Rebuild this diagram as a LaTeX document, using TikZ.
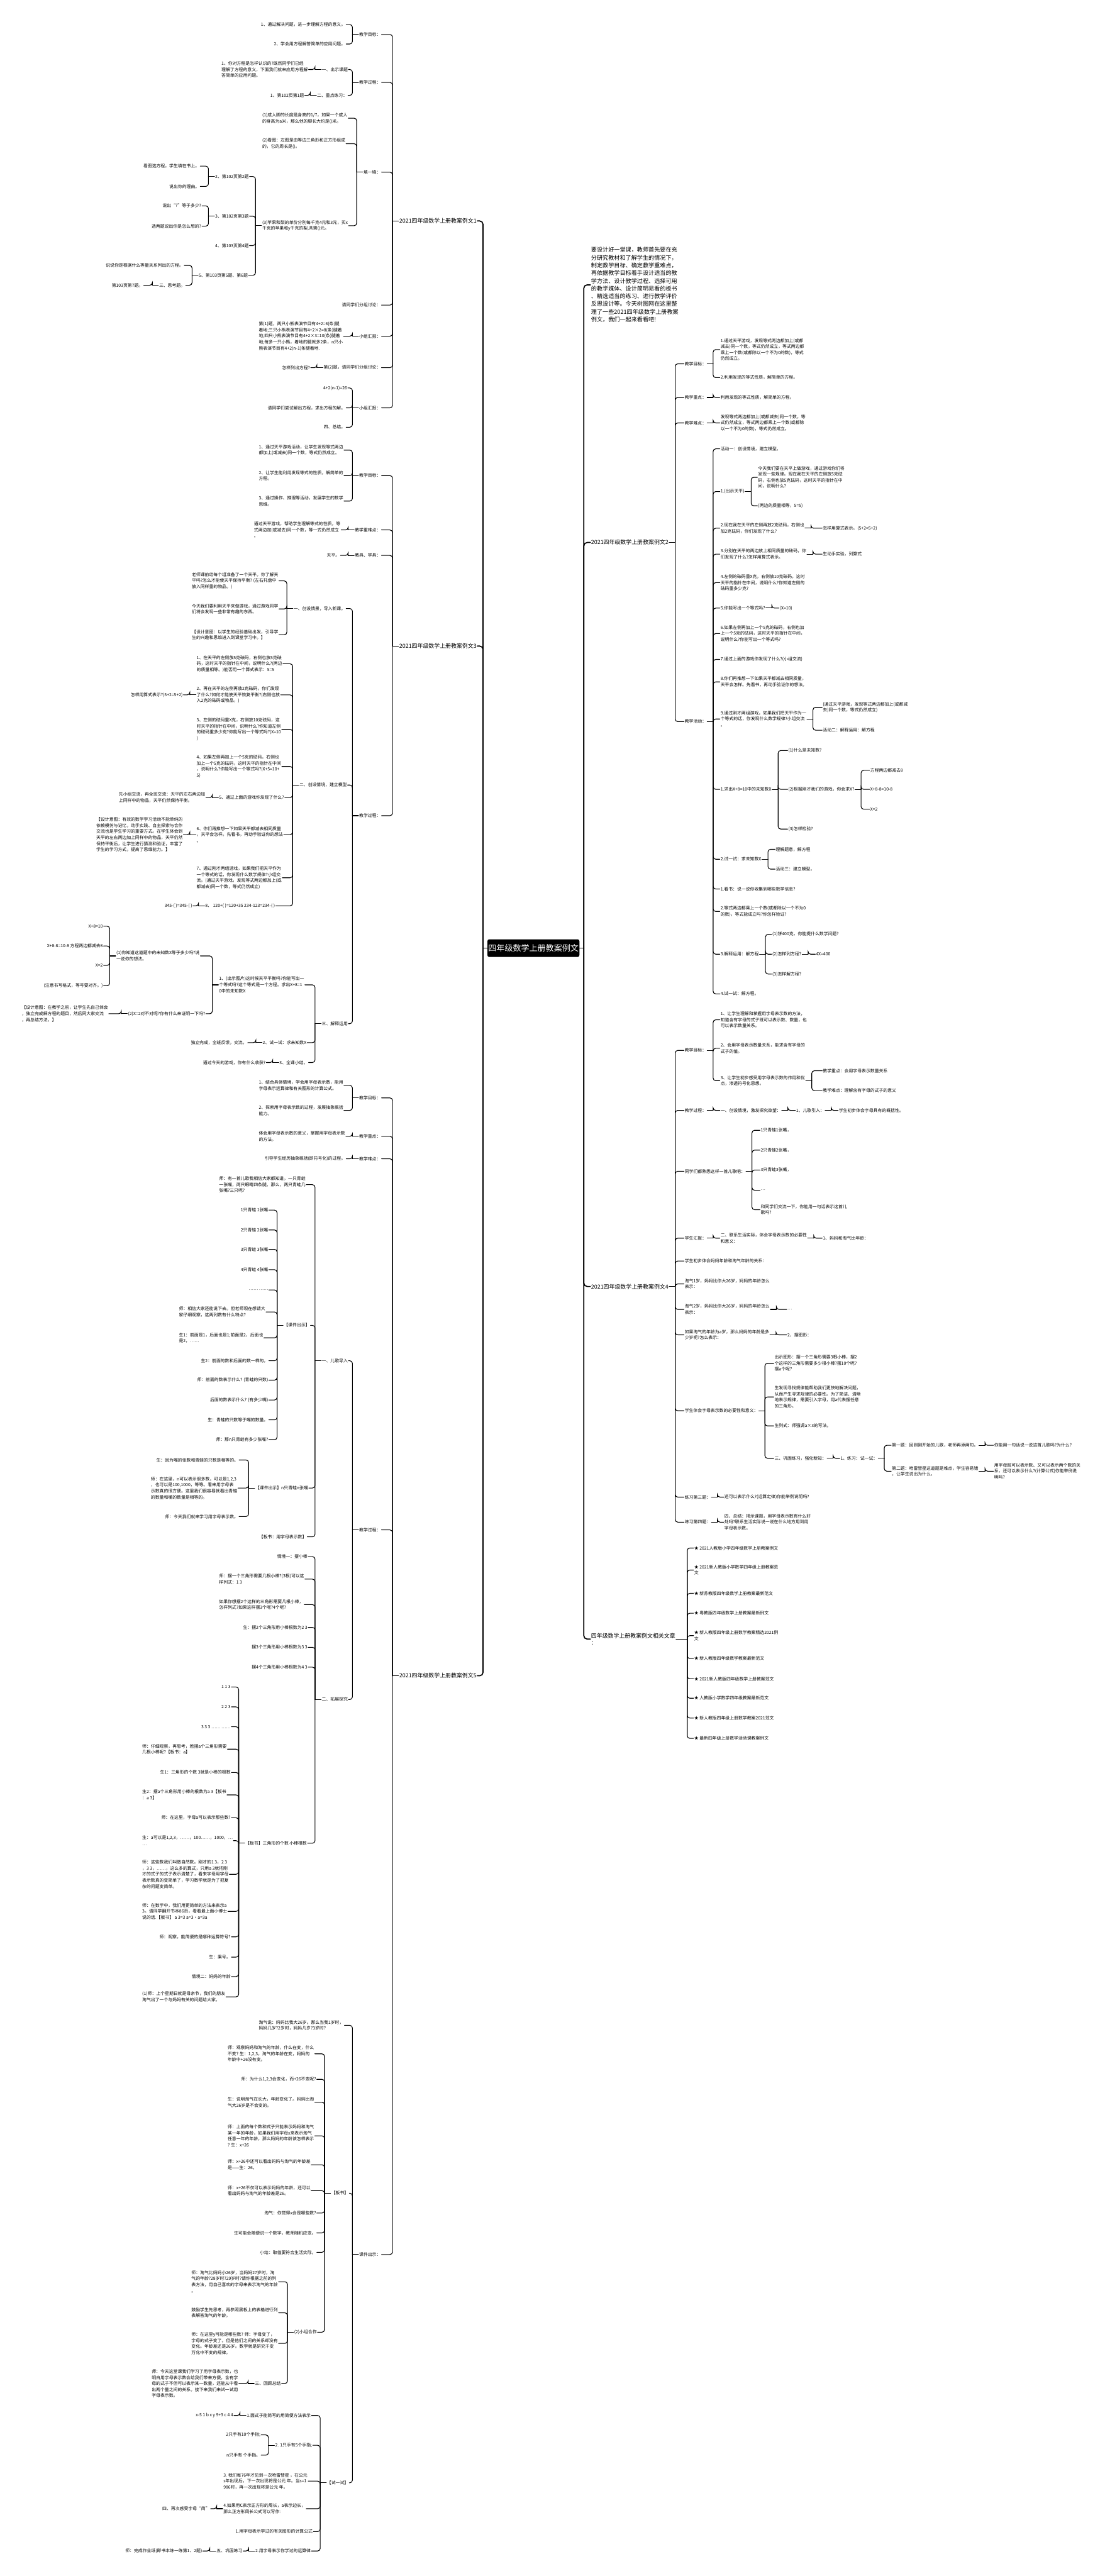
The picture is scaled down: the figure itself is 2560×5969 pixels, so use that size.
\documentclass[tikz,border=0pt]{standalone}
\usepackage{fontspec}
\setmainfont{Noto Sans CJK SC}
\newcommand{\lkL}[3][14pt]{\draw[conn] (#2.west) -- ++(-#1,0) coordinate (jj);\foreach \nm in {#3}{\draw[conn,rounded corners=6pt] (jj) |- (\nm.east);}}
\newcommand{\lkR}[3][14pt]{\draw[conn] (#2.east) -- ++(#1,0) coordinate (jj);\foreach \nm in {#3}{\draw[conn,rounded corners=6pt] (jj) |- (\nm.west);}}
\begin{document}
\begin{tikzpicture}[x=1pt,y=-1pt,
  t/.style={font=\fontsize{10}{14}\selectfont,align=left,inner sep=1.5pt},
  L/.style={t,anchor=east}, W/.style={t,anchor=west},
  br/.style={font=\fontsize{13}{17}\selectfont,align=left,inner sep=1.5pt},
  conn/.style={line width=1.6pt,line cap=round},
  mainc/.style={line width=2.5pt,line cap=round}]
\useasboundingbox (0,0) rectangle (2560,5969);
\fill[white] (0,0) rectangle (2560,5969);

% root
\node[fill=black,text=white,rounded corners=4pt,minimum width=213pt,minimum height=41pt,inner sep=0pt,font=\fontsize{19}{22}\selectfont] (root) at (1236,2197) {四年级数学上册教案例文};

% ================= branch 1 =================
\node[br,anchor=east] (b1) at (1106,512) {2021四年级数学上册教案例文1};
\node[L] (b1a) at (884,80) {教学目标：};
\node[L] (b1a1) at (802,57) {1、通过解决问题，进一步理解方程的意义。};
\node[L] (b1a2) at (802,102) {2、学会用方程解答简单的应用问题。};
\node[L] (b1b) at (884,191) {教学过程：};
\node[W] (b1b1) at (744,161) {一、出示课题};
\node[L] (b1b1a) at (715,161) {1、你对方程是怎样认识的?既然同学们已经\\理解了方程的意义，下面我们就来应用方程解\\答简单的应用问题。};
\node[W] (b1b2) at (733,221) {二、重点练习：};
\node[L] (b1b2a) at (706,221) {1、第102页第1题};
\node[L] (b1c) at (884,399) {填一填：};
\node[W] (b1c1) at (606,274) {(1)成人脚的长度是身高的1/7，如果一个成人\\的身高为a米，那么他的脚长大约是()米。};
\node[W] (b1c2) at (606,333) {(2)看图：左图是由等边三角形和正方形组成\\的，它的周长是()。};
\node[W] (b1c3) at (606,523) {(3)苹果和梨的单价分别每千克4元和3元，买x\\千克的苹果和y千克的梨,共需()元。};
\node[W] (b1c3a) at (497,409) {2、第102页第2题};
\node[L] (b1c3a1) at (464,385) {看图选方程。学生填在书上。};
\node[L] (b1c3a2) at (464,432) {说出你的理由。};
\node[W] (b1c3b) at (497,501) {3、第102页第3题};
\node[L] (b1c3b1) at (468,477) {说出“?”等于多少?};
\node[L] (b1c3b2) at (468,524) {选两题说出你是怎么想的?};
\node[W] (b1c3c) at (497,569) {4、第103页第4题};
\node[W] (b1c3d) at (459,638) {5、第103页第5题、第6题};
\node[L] (b1c3d1) at (427,615) {说说你是根据什么等量关系列出的方程。};
\node[W] (b1c3d2) at (367,661) {三、思考题。};
\node[L] (b1c3d2a) at (333,661) {第103页第7题。};
\node[L] (b1d) at (884,707) {请同学们分组讨论：};
\node[L] (b1e) at (884,779) {小组汇报：};
\node[W] (b1e1) at (598,779) {第(1)题，两只小熊表演节目有4+2=6(条)腿\\着地;三只小熊表演节目有4+2×2=8(条)腿着\\地;四只小熊表演节目有4+2×3=10(条)腿着\\地;每多一只小熊，着地的腿就多2条，n只小\\熊表演节目有4+2(n-1)条腿着地.};
\node[L] (b1f) at (884,852) {第(2)题，请同学们分组讨论：};
\node[L] (b1f1) at (720,852) {怎样列出方程?};
\node[L] (b1g) at (884,945) {小组汇报：};
\node[L] (b1g1) at (806,899) {4+2(n-1)=26};
\node[L] (b1g2) at (802,945) {请同学们尝试解出方程，求出方程的解。};
\node[L] (b1g3) at (802,990) {四、总结。};

% ================= branch 3 =================
\node[br,anchor=east] (b3) at (1106,1497) {2021四年级数学上册教案例文3};
\node[L] (b3a) at (884,1102) {教学目标：};
\node[W] (b3a1) at (598,1043) {1、通过天平游戏活动，让学生发现等式两边\\都加上(或减去)同一个数，等式仍然成立。};
\node[W] (b3a2) at (598,1102) {2、让学生能利用发现等式的性质，解简单的\\方程。};
\node[W] (b3a3) at (598,1161) {3、通过操作、推理等活动，发展学生的数学\\思维。};
\node[L] (b3b) at (884,1228) {教学重难点：};
\node[W] (b3b1) at (587,1228) {通过天平游戏，帮助学生理解等式的性质，等\\式两边加(或减去)同一个数，等一式仍然成立\\。};
\node[L] (b3c) at (884,1287) {教具、学具：};
\node[L] (b3c1) at (789,1287) {天平。};
\node[L] (b3d) at (884,1890) {教学过程：};
\node[L] (b3d1) at (802,1410) {一、创设情景，导入新课。};
\node[W] (b3d1a) at (443,1346) {老师课前给每个组准备了一个天平。你了解天\\平吗?怎么才能使天平保持平衡? (左右托盘中\\放入同样重的物品。)};
\node[W] (b3d1b) at (443,1411) {今天我们要利用天平来做游戏，通过游戏同学\\们将会发现一些非常有趣的东西。};
\node[W] (b3d1c) at (443,1471) {【设计意图：以学生的经验基础出发，引导学\\生的兴趣和思维进入到课堂学习中。】};
\node[W] (b3d2) at (692,1819) {二、创设情境，建立模型};
\node[W] (b3d2a) at (454,1538) {1、在天平的左侧放5克砝码，右侧也放5克砝\\码，这时天平的指针在中间，说明什么?(两边\\的质量相等。)能否用一个算式表示：5=5};
\node[W] (b3d2b) at (454,1610) {2、再在天平的左侧再放2克砝码，你们发现\\了什么?如何才能使天平恢复平衡?(右侧也放\\入2克的砝码或物品。)};
\node[L] (b3d2b1) at (425,1610) {怎样用算式表示?(5+2=5+2)};
\node[W] (b3d2c) at (454,1690) {3、左侧的砝码重X克，右侧放10克砝码，这\\时天平的指针在中间，说明什么?你知道左侧\\的砝码重多少克?你能写出一个等式吗?(X=10\\)};
\node[W] (b3d2d) at (454,1776) {4、如果左侧再加上一个5克的砝码，右侧也\\加上一个5克的砝码，这时天平的指针在中间\\，说明什么?你能写出一个等式吗?(X+5=10+\\5)};
\node[W] (b3d2e) at (506,1848) {5、通过上面的游戏你发现了什么?};
\node[L] (b3d2e1) at (477,1848) {先小组交流，再全班交流：天平的左右两边加\\上同样中的物品，天平仍然保持平衡。};
\node[W] (b3d2f) at (454,1934) {6、你们再推想一下如果天平都减去相同质量\\，天平会怎样。先看书，再动手验证你的想法\\。};
\node[L] (b3d2f1) at (425,1934) {【设计意图：有效的数学学习活动不能单纯的\\依赖模仿与记忆，动手实践、自主探索与合作\\交流也是学生学习的重要方式。在学生体会到\\天平的左右两边加上同样中的物品，天平仍然\\保持平衡后，让学生进行猜测和验证，丰富了\\学生的学习方式，提高了思维能力。】};
\node[W] (b3d2g) at (454,2034) {7、通过刚才两组游戏，如果我们把天平作为\\一个等式的话，你发现什么数学规律?小组交\\流。(通过天平游戏，发现等式两边都加上(或\\都减去)同一个数，等式仍然成立)};
\node[W] (b3d2h) at (474,2099) {8、 120+( )=120+35 234-123=234-( )};
\node[L] (b3d2h1) at (447,2099) {345-( )=345-( )};
\node[W] (b3d3) at (744,2372) {三、解释运用};
\node[W] (b3d3a) at (506,2282) {1、(出示图片)这时候天平平衡吗?你能写出一\\个等式吗?这个等式是一个方程。求出X+8=1\\0中的未知数X};
\node[W] (b3d3a1) at (268,2215) {(1)你知道这道题中的未知数X等于多少吗?说\\一说你的想法。};
\node[L] (b3d3a1a) at (240,2146) {X+8=10};
\node[L] (b3d3a1b) at (240,2192) {X+8-8=10-8 方程两边都减去8};
\node[L] (b3d3a1c) at (240,2237) {X=2};
\node[L] (b3d3a1d) at (240,2284) {(注意书写格式，等号要对齐。)};
\node[L] (b3d3a2) at (477,2349) {(2)X=2对不对呢?你有什么来证明一下吗?};
\node[L] (b3d3a2a) at (252,2349) {【设计意图：在教学之前，让学生先自己体会\\，独立完成解方程的题目，然后同大家交流\\，再总结方法。】};
\node[W] (b3d3b) at (607,2416) {2、试一试：求未知数X};
\node[L] (b3d3b1) at (574,2416) {独立完成，全班反馈，交流。};
\node[W] (b3d3c) at (646,2462) {3、全课小结。};
\node[L] (b3d3c1) at (617,2462) {通过今天的游戏，你有什么收获?};

% ================= branch 5 =================
\node[br,anchor=east] (b5) at (1106,3883) {2021四年级数学上册教案例文5};
\node[L] (b5a) at (884,2544) {教学目标：};
\node[W] (b5a1) at (598,2515) {1、结合具体情境，学会用字母表示数，能用\\字母表示运算律和有关图形的计算公式。};
\node[W] (b5a2) at (598,2573) {2、探索用字母表示数的过程，发展抽象概括\\能力。};
\node[L] (b5b) at (884,2633) {教学重点：};
\node[W] (b5b1) at (598,2633) {体会用字母表示数的意义，掌握用字母表示数\\的方法。};
\node[L] (b5c) at (884,2685) {教学难点：};
\node[L] (b5c1) at (802,2685) {引导学生经历抽象概括(即符号化)的过程。};
\node[L] (b5d) at (884,3545) {教学过程：};
\node[W] (b5d1) at (744,3153) {一、儿歌导入};
\node[W] (b5d1a) at (506,2745) {师：有一首儿歌我相信大家都知道，一只青蛙\\一张嘴，两只眼睛四条腿。那么，两只青蛙几\\张嘴?三只呢?};
\node[W] (b5d1b) at (656,3071) {【课件出示】};
\node[L] (c1) at (623,2804) {1只青蛙 1张嘴};
\node[L] (c2) at (623,2850) {2只青蛙 2张嘴};
\node[L] (c3) at (623,2895) {3只青蛙 3张嘴};
\node[L] (c4) at (623,2942) {4只青蛙 4张嘴};
\node[L] (c5) at (623,2989) {…… ……};
\node[W] (c6) at (413,3040) {师：相信大家还能说下去。但老师现在想请大\\家仔细观察，这两列数有什么特点?};
\node[W] (c7) at (413,3100) {生1：前面是1，后面也是1;前面是2，后面也\\是2，……};
\node[L] (c8) at (623,3153) {生2：前面的数和后面的数一样的。};
\node[L] (c9) at (623,3198) {师：前面的数表示什么? (青蛙的只数)};
\node[L] (c10) at (623,3244) {后面的数表示什么? (有多少嘴)};
\node[L] (c11) at (623,3290) {生：青蛙的只数等于嘴的数量。};
\node[L] (c12) at (623,3336) {师：那n只青蛙有多少张嘴?};
\node[W] (b5d1c) at (590,3448) {【课件出示】n只青蛙n张嘴};
\node[L] (d1) at (554,3383) {生：因为嘴的张数和青蛙的只数是相等的。};
\node[W] (d2) at (348,3448) {师：在这里，n可以表示很多数，可以是1,2,3\\，也可以是100,1000，等等。看来用字母表\\示数真的很方便。这里我们很容易就看出青蛙\\的数量和嘴的数量是相等的。};
\node[L] (d3) at (554,3514) {师：今天我们就来学习用字母表示数。};
\node[L] (b5d1d) at (712,3561) {【板书：用字母表示数】};
\node[W] (b5d2) at (744,3938) {二、拓展探究};
\node[L] (e1) at (714,3607) {情境一：摆小棒};
\node[W] (e2) at (506,3659) {师：摆一个三角形需要几根小棒?(3根)可以这\\样列式：1 3};
\node[W] (e3) at (506,3718) {如果你想摆2个这样的三角形需要几根小棒，\\怎样列式?如果这样摆3个呢?4个呢?};
\node[L] (e4) at (714,3771) {生：摆2个三角形用小棒根数为2 3};
\node[L] (e5) at (714,3817) {摆3个三角形用小棒根数为3 3};
\node[L] (e6) at (714,3863) {摆4个三角形用小棒根数为4 3};
\node[W] (e7) at (567,4271) {【板书】三角形的个数 小棒根数};
\node[L] (f1) at (536,3909) {1 1 3};
\node[L] (f2) at (536,3955) {2 2 3};
\node[L] (f3) at (536,4001) {3 3 3 …… ……};
\node[W] (f4) at (328,4053) {师：仔细观察，再思考，若摆a个三角形需要\\几根小棒呢?【板书：a】};
\node[L] (f5) at (536,4107) {生1：三角形的个数 3就是小棒的根数};
\node[W] (f6) at (328,4159) {生2：摆a个三角形用小棒的根数为a 3【板书\\：a 3】};
\node[L] (f7) at (536,4212) {师：在这里，字母a可以表示那些数?};
\node[W] (f8) at (328,4265) {生：a可以是1,2,3，……，100……，1000，…\\…};
\node[W] (f9) at (328,4343) {师：这些数我们叫做自然数。刚才的1 3，2 3\\，3 3，……，这么多的算式，只用a 3就把刚\\才的式子的式子表示清楚了，看来字母用字母\\表示数真的变简单了，学习数学就是为了把复\\杂的问题变简单。};
\node[W] (f10) at (328,4429) {师：在数学中，我们用更简单的方法来表示a\\3。请同学翻开书本86页，看看最上面小博士\\说的话.【板书】 a 3=3 a=3·a=3a};
\node[L] (f11) at (536,4488) {师：观察，能简便的是哪种运算符号?};
\node[L] (f12) at (536,4535) {生：乘号。};
\node[L] (f13) at (536,4580) {情境二：妈妈的年龄};
\node[W] (f14) at (328,4627) {(1)师：上个星期日就是母亲节，我们的朋友\\淘气出了一个与妈妈有关的问题给大家。};
\node[L] (b5e) at (884,5224) {课件出示：};
\node[W] (g1) at (598,4693) {淘气说：妈妈比我大26岁。那么当我1岁时，\\妈妈几岁?2岁时，妈妈几岁?3岁时?};
\node[W] (g2) at (766,5082) {【板书】};
\node[W] (h1) at (526,4759) {师：观察妈妈和淘气的年龄，什么在变，什么\\不变? 生：1,2,3，淘气的年龄在变，妈妈的\\年龄中+26没有变。};
\node[L] (h2) at (734,4818) {师：为什么1,2,3会变化，而+26不变呢?};
\node[W] (h3) at (526,4871) {生：说明淘气在长大，年龄变化了。妈妈比淘\\气大26岁是不会变的。};
\node[W] (h4) at (526,4949) {师：上面的每个数和式子只能表示妈妈和淘气\\某一年的年龄，如果我们用字母x来表示淘气\\任意一年的年龄，那么妈妈的年龄该怎样表示\\? 生：x+26};
\node[W] (h5) at (526,5016) {师：x+26中还可以看出妈妈与淘气的年龄差\\是——生：26。};
\node[W] (h6) at (526,5076) {师：x+26不仅可以表示妈妈的年龄，还可以\\看出妈妈与淘气的年龄差是26。};
\node[L] (h7) at (734,5128) {淘气：你觉得x会是哪些数?};
\node[L] (h8) at (734,5174) {生可能会随便说一个数字，教师随机应变。};
\node[L] (h9) at (734,5219) {小结：取值要符合生活实际。};
\node[W] (h10) at (680,5404) {(2)小组合作};
\node[W] (i1) at (442,5287) {师：淘气比妈妈小26岁，当妈妈27岁时，淘\\气的年龄?28岁时?29岁时?请你根据之前的列\\表方法，用自己喜欢的字母来表示淘气的年龄\\。};
\node[W] (i2) at (442,5359) {鼓励学生先思考，再参照黑板上的表格进行列\\表解答淘气的年龄。};
\node[W] (i3) at (442,5430) {师：在这里y可能是哪些数? 师：字母变了，\\字母的式子变了。但是他们之间的关系却没有\\变化。年龄差还是26岁。数学就是研究千变\\万化中不变的规律。};
\node[W] (i4) at (589,5523) {三、回顾总结};
\node[W] (i4a) at (350,5523) {师：今天这堂课我们学习了用字母表示数，也\\明白用字母表示数会给我们带来方便，含有字\\母的式子不但可以表示某一数量，还能从中看\\出两个量之间的关系。接下来我们来试一试用\\字母表示数。};
\node[W] (g3) at (756,5753) {【试一试】};
\node[W] (j1) at (570,5597) {1.面式子能简写的用简便方法表示};
\node[L] (j1a) at (542,5597) {x-5 1 b x y 9+3 c 4 4};
\node[W] (j2) at (636,5666) {2. 1只手有5个手指;};
\node[L] (j2a) at (605,5642) {2只手有10个手指;};
\node[L] (j2b) at (605,5689) {n只手有 个手指。};
\node[W] (j3) at (516,5749) {3. 我们每76年才见到一次哈雷彗星 ，在公元\\s年出现后，下一次出现将是公元 年。当s=1\\986时，再一次出现将是公元 年。};
\node[W] (j4) at (516,5813) {4.如果用C表示正方形的周长，a表示边长，\\那么正方形周长公式可以写作:};
\node[L] (j4a) at (488,5813) {四、再次感受字母“简”};
\node[L] (j5) at (726,5866) {1.用字母表示学过的有关图形的计算公式};
\node[W] (j6) at (590,5911) {2.用字母表示你学过的运算律};
\node[W] (j6a) at (500,5911) {五、巩固练习};
\node[L] (j6b) at (470,5911) {师：完成作业纸(即书本练一练第1、2题)};

% ================= right: intro =================
\node[W,font=\fontsize{13.3}{17.9}\selectfont] (intro) at (1368,660) {要设计好一堂课，教师首先要在充\\分研究教材和了解学生的情况下，\\制定教学目标、确定教学重难点，\\再依据教学目标着手设计适当的教\\学方法、设计教学过程、选择可用\\的教学媒体、设计简明易看的板书\\、精选适当的练习、进行教学评价\\反思设计等。今天树图网在这里整\\理了一些2021四年级数学上册教案\\例文，我们一起来看看吧!};

% ================= branch 2 =================
\node[br,anchor=west] (b2) at (1368,1257) {2021四年级数学上册教案例文2};
\node[W] (k1) at (1585,843) {教学目标：};
\node[W] (k1a) at (1668,810) {1.通过天平游戏，发现等式两边都加上(或都\\减去)同一个数，等式仍然成立，等式两边都\\乘上一个数(或都除以一个不为0的数)，等式\\仍然成立。};
\node[W] (k1b) at (1668,875) {2.利用发现的等式性质，解简单的方程。};
\node[W] (k2) at (1585,921) {教学重点：};
\node[W] (k2a) at (1668,921) {利用发现的等式性质，解简单的方程。};
\node[W] (k3) at (1585,980) {教学难点：};
\node[W] (k3a) at (1668,980) {发现等式两边都加上(或都减去)同一个数，等\\式仍然成立，等式两边都乘上一个数(或都除\\以一个不为0的数)，等式仍然成立。};
\node[W] (k4) at (1585,1672) {教学活动：};
\node[W] (m1) at (1668,1040) {活动一：创设情境，建立模型。};
\node[W] (m2) at (1668,1139) {1.(出示天平)};
\node[W] (m2a) at (1755,1106) {今天我们要在天平上做游戏，通过游戏你们将\\发现一些规律。现在我在天平的左侧放5克砝\\码，右侧也放5克砝码，这时天平的指针在中\\间，说明什么?};
\node[W] (m2b) at (1755,1172) {(两边的质量相等，5=5)};
\node[W] (m3) at (1668,1224) {2.现在我在天平的左侧再放2克砝码，右侧也\\加2克砝码，你们发现了什么?};
\node[W] (m3a) at (1905,1224) {怎样用算式表示。(5+2=5+2)};
\node[W] (m4) at (1668,1284) {3.分别在天平的两边放上相同质量的砝码，你\\们发现了什么?怎样用算式表示。};
\node[W] (m4a) at (1905,1284) {生动手实验，列算式};
\node[W] (m5) at (1668,1350) {4.左侧的砝码重X克，右侧放10克砝码，这时\\天平的指针在中间，说明什么?你知道左侧的\\砝码重多少克?};
\node[W] (m6) at (1668,1409) {5.你能写出一个等式吗?};
\node[W] (m6a) at (1805,1409) {(X=10)};
\node[W] (m7) at (1668,1468) {6.如果左侧再加上一个5克的砝码，右侧也加\\上一个5克的砝码，这时天平的指针在中间，\\说明什么?你能写出一个等式吗?};
\node[W] (m8) at (1668,1528) {7.通过上面的游戏你发现了什么?(小组交流)};
\node[W] (m9) at (1668,1580) {8.你们再推想一下如果天平都减去相同质量，\\天平会怎样。先看书，再动手验证你的想法。};
\node[W] (m10) at (1668,1666) {9.通过刚才两组游戏，如果我们把天平作为一\\个等式的话，你发现什么数学规律?小组交流\\。};
\node[W] (m10a) at (1905,1639) {(通过天平游戏，发现等式两边都加上(或都减\\去)同一个数，等式仍然成立)};
\node[W] (m10b) at (1905,1692) {活动二：解释运用：解方程};
\node[W] (m11) at (1668,1829) {1.求出X+8=10中的未知数X};
\node[W] (m11a) at (1825,1739) {(1)什么是未知数?};
\node[W] (m11b) at (1825,1829) {(2)根据刚才我们的游戏，你会求X?};
\node[W] (m11b1) at (2015,1785) {方程两边都减去8};
\node[W] (m11b2) at (2015,1829) {X+8-8=10-8};
\node[W] (m11b3) at (2015,1875) {X=2};
\node[W] (m11c) at (1825,1921) {(3)怎样检验?};
\node[W] (m12) at (1668,1991) {2.试一试：求未知数X};
\node[W] (m12a) at (1796,1968) {理解题意，解方程};
\node[W] (m12b) at (1796,2014) {活动三：建立模型。};
\node[W] (m13) at (1668,2060) {1.看书：说一说你收集到哪些数学信息?};
\node[W] (m14) at (1668,2112) {2.等式两边都乘上一个数(或都除以一个不为0\\的数)，等式能成立吗?你怎样验证?};
\node[W] (m15) at (1668,2211) {3.解释运用：解方程};
\node[W] (m15a) at (1788,2165) {(1)饼400克，你能提什么数学问题?};
\node[W] (m15b) at (1788,2211) {(2)怎样列方程?};
\node[W] (m15b1) at (1889,2211) {4X=400};
\node[W] (m15c) at (1788,2257) {(3)怎样解方程?};
\node[W] (m16) at (1668,2303) {4.试一试：解方程。};

% ================= branch 4 =================
\node[br,anchor=west] (b4) at (1368,2981) {2021四年级数学上册教案例文4};
\node[W] (n1) at (1585,2434) {教学目标：};
\node[W] (n1a) at (1668,2363) {1、让学生理解和掌握用字母表示数的方法，\\知道含有字母的式子既可以表示数、数量，也\\可以表示数量关系。};
\node[W] (n1b) at (1668,2429) {2、会用字母表示数量关系，能求含有字母的\\式子的值。};
\node[W] (n1c) at (1668,2504) {3、让学生初步感受用字母表示数的作用和优\\点，渗透符号化思想。};
\node[W] (n1c1) at (1905,2481) {教学重点：会用字母表示数量关系};
\node[W] (n1c2) at (1905,2527) {教学难点：理解含有字母的式子的意义};
\node[W] (n2) at (1585,2573) {教学过程：};
\node[W] (n2a) at (1668,2573) {一、创设情境，激发探究欲望：};
\node[W] (n2b) at (1843,2573) {1、儿歌引入：};
\node[W] (n2c) at (1942,2573) {学生初步体会字母具有的概括性。};
\node[W] (n3) at (1585,2714) {同学们都熟悉这样一首儿歌吧：};
\node[W] (n3a) at (1761,2619) {1只青蛙1张嘴，};
\node[W] (n3b) at (1761,2665) {2只青蛙2张嘴，};
\node[W] (n3c) at (1761,2711) {3只青蛙3张嘴，};
\node[W] (n3d) at (1761,2758) {…};
\node[W] (n3e) at (1761,2803) {和同学们交流一下，你能用一句话表示这首儿\\歌吗?};
\node[W] (n4) at (1585,2869) {学生汇报：};
\node[W] (n4a) at (1668,2869) {二、联系生活实际，体会字母表示数的必要性\\和意义：};
\node[W] (n4b) at (1905,2869) {1、妈妈和淘气比年龄：};
\node[W] (n5) at (1585,2922) {学生初步体会妈妈年龄和淘气年龄的关系：};
\node[W] (n6) at (1585,2975) {淘气1岁，妈妈比你大26岁，妈妈的年龄怎么\\表示：};
\node[W] (n7) at (1585,3034) {淘气2岁，妈妈比你大26岁，妈妈的年龄怎么\\表示：};
\node[W] (n7a) at (1823,3034) {…};
\node[W] (n8) at (1585,3093) {如果淘气的年龄为a岁，那么妈妈的年龄是多\\少岁呢?怎么表示：};
\node[W] (n8a) at (1823,3093) {2、摆图形：};
\node[W] (n9) at (1585,3269) {学生体会字母表示数的必要性和意义：};
\node[W] (o1) at (1793,3159) {出示图形：摆一个三角形需要3根小棒，摆2\\个这样的三角形需要多少根小棒?摆10个呢?\\摆a个呢?};
\node[W] (o2) at (1793,3237) {生发现寻找规律能帮助我们更快地解决问题，\\从而产生寻求规律的必要性。为了简洁、清晰\\地表示规律，需要引入字母，用a代表摆任意\\的三角形。};
\node[W] (o3) at (1793,3304) {生列式：师强调a×3的写法。};
\node[W] (o4) at (1793,3379) {三、巩固练习，强化新知：};
\node[W] (o4a) at (1946,3379) {1、练习：试一试：};
\node[W] (p1) at (2065,3349) {第一题：回到刚开始的儿歌，老师再添两句。};
\node[W] (p1a) at (2302,3349) {你能用一句话说一说这首儿歌吗?为什么?};
\node[W] (p2) at (2065,3409) {第二题：哈雷彗星这道题是难点，学生容易错\\，让学生说出为什么。};
\node[W] (p2a) at (2302,3409) {用字母既可以表示数、又可以表示两个数的关\\系，还可以表示什么?(计算公式)你能举例说\\明吗?};
\node[W] (n10) at (1585,3469) {练习第三题：};
\node[W] (n10a) at (1677,3469) {还可以表示什么?(运算定律)你能举例说明吗?};
\node[W] (n11) at (1585,3527) {练习第四题：};
\node[W] (n11a) at (1677,3527) {四、总结：揭示课题，用字母表示数有什么好\\处吗?联系生活实际说一说在什么地方用到用\\字母表示数。};

% ================= related =================
\node[br,anchor=west] (rel) at (1368,3798) {四年级数学上册教案例文相关文章\\：};
\node[W] (q1) at (1607,3587) {★ 2021人教版小学四年级数学上册教案例文};
\node[W] (q2) at (1607,3638) {★ 2021新人教版小学数学四年级上册教案范\\文};
\node[W] (q3) at (1607,3692) {★ 新苏教版四年级数学上册教案最新范文};
\node[W] (q4) at (1607,3738) {★ 粤教版四年级数学上册教案最新例文};
\node[W] (q5) at (1607,3790) {★ 新人教版四年级上册数学教案精选2021例\\文};
\node[W] (q6) at (1607,3843) {★ 新人教版四年级数学教案最新范文};
\node[W] (q7) at (1607,3890) {★ 2021新人教版四年级数学上册教案范文};
\node[W] (q8) at (1607,3935) {★ 人教版小学数学四年级教案最新范文};
\node[W] (q9) at (1607,3981) {★ 新人教版四年级上册数学教案2021范文};
\node[W] (q10) at (1607,4028) {★ 最新四年级上册数学活动课教案例文};

% ================= connectors =================
\draw[mainc] (root.west) -- ++(-10pt,0) coordinate (jl);
\foreach \nm in {b1,b3,b5}{\draw[mainc,rounded corners=8pt] (jl) |- (\nm.east);}
\draw[mainc] (root.east) -- ++(10pt,0) coordinate (jr);
\foreach \nm in {intro,b2,b4,rel}{\draw[mainc,rounded corners=8pt] (jr) |- (\nm.west);}

\lkL{b1}{b1a,b1b,b1c,b1d,b1e,b1f,b1g}
\lkL{b1a}{b1a1,b1a2}
\lkL{b1b}{b1b1,b1b2}
\lkL{b1b1}{b1b1a}
\lkL{b1b2}{b1b2a}
\lkL{b1c}{b1c1,b1c2,b1c3}
\lkL{b1c3}{b1c3a,b1c3b,b1c3c,b1c3d}
\lkL{b1c3a}{b1c3a1,b1c3a2}
\lkL{b1c3b}{b1c3b1,b1c3b2}
\lkL{b1c3d}{b1c3d1,b1c3d2}
\lkL{b1c3d2}{b1c3d2a}
\lkL{b1e}{b1e1}
\lkL{b1f}{b1f1}
\lkL{b1g}{b1g1,b1g2,b1g3}

\lkL{b3}{b3a,b3b,b3c,b3d}
\lkL{b3a}{b3a1,b3a2,b3a3}
\lkL{b3b}{b3b1}
\lkL{b3c}{b3c1}
\lkL{b3d}{b3d1,b3d2,b3d3}
\lkL{b3d1}{b3d1a,b3d1b,b3d1c}
\lkL{b3d2}{b3d2a,b3d2b,b3d2c,b3d2d,b3d2e,b3d2f,b3d2g,b3d2h}
\lkL{b3d2b}{b3d2b1}
\lkL{b3d2e}{b3d2e1}
\lkL{b3d2f}{b3d2f1}
\lkL{b3d2h}{b3d2h1}
\lkL{b3d3}{b3d3a,b3d3b,b3d3c}
\lkL{b3d3a}{b3d3a1,b3d3a2}
\lkL{b3d3a1}{b3d3a1a,b3d3a1b,b3d3a1c,b3d3a1d}
\lkL{b3d3a2}{b3d3a2a}
\lkL{b3d3b}{b3d3b1}
\lkL{b3d3c}{b3d3c1}

\lkL{b5}{b5a,b5b,b5c,b5d,b5e}
\lkL{b5a}{b5a1,b5a2}
\lkL{b5b}{b5b1}
\lkL{b5c}{b5c1}
\lkL{b5d}{b5d1,b5d2}
\lkL{b5d1}{b5d1a,b5d1b,b5d1c,b5d1d}
\lkL{b5d1b}{c1,c2,c3,c4,c5,c6,c7,c8,c9,c10,c11,c12}
\lkL{b5d1c}{d1,d2,d3}
\lkL{b5d2}{e1,e2,e3,e4,e5,e6,e7}
\lkL{e7}{f1,f2,f3,f4,f5,f6,f7,f8,f9,f10,f11,f12,f13,f14}
\lkL{b5e}{g1,g2,g3}
\lkL{g2}{h1,h2,h3,h4,h5,h6,h7,h8,h9,h10}
\lkL{h10}{i1,i2,i3,i4}
\lkL{i4}{i4a}
\lkL{g3}{j1,j2,j3,j4,j5,j6}
\lkL{j1}{j1a}
\lkL{j2}{j2a,j2b}
\lkL{j4}{j4a}
\lkL{j6}{j6a}
\lkL{j6a}{j6b}

\lkR{b2}{k1,k2,k3,k4}
\lkR{k1}{k1a,k1b}
\lkR{k2}{k2a}
\lkR{k3}{k3a}
\lkR{k4}{m1,m2,m3,m4,m5,m6,m7,m8,m9,m10,m11,m12,m13,m14,m15,m16}
\lkR{m2}{m2a,m2b}
\lkR{m3}{m3a}
\lkR{m4}{m4a}
\lkR{m6}{m6a}
\lkR{m10}{m10a,m10b}
\lkR{m11}{m11a,m11b,m11c}
\lkR{m11b}{m11b1,m11b2,m11b3}
\lkR{m12}{m12a,m12b}
\lkR{m15}{m15a,m15b,m15c}
\lkR{m15b}{m15b1}

\lkR{b4}{n1,n2,n3,n4,n5,n6,n7,n8,n9,n10,n11}
\lkR{n1}{n1a,n1b,n1c}
\lkR{n1c}{n1c1,n1c2}
\lkR{n2}{n2a}
\lkR{n2a}{n2b}
\lkR{n2b}{n2c}
\lkR{n3}{n3a,n3b,n3c,n3d,n3e}
\lkR{n4}{n4a}
\lkR{n4a}{n4b}
\lkR{n7}{n7a}
\lkR{n8}{n8a}
\lkR{n9}{o1,o2,o3,o4}
\lkR{o4}{o4a}
\lkR{o4a}{p1,p2}
\lkR{p1}{p1a}
\lkR{p2}{p2a}
\lkR{n10}{n10a}
\lkR{n11}{n11a}

\lkR[26pt]{rel}{q1,q2,q3,q4,q5,q6,q7,q8,q9,q10}
\end{tikzpicture}
\end{document}
